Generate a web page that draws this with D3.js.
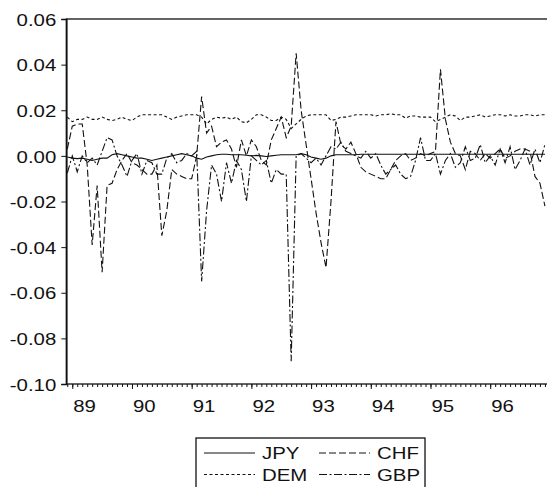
<!DOCTYPE html>
<html>
<head>
<meta charset="utf-8">
<script src="https://cdn.jsdelivr.net/npm/d3@7"></script>
<style>
  body {margin: 0; background: #fff;}
  text {font-family: "Liberation Sans", Arial, sans-serif; font-size: 17px; fill: #111;}
</style>
</head>
<body>
<svg id="chart" width="547" height="487"></svg>
<script>
// monthly observations, 1988:12 .. 1996:12
const firstMonth = 1988 + 11 / 12;

const jpy = [-0.0005,
  -0.001, -0.0012, -0.001, -0.0015, -0.002, -0.0015, -0.001, -0.001, 0.0005, 0.001, 0.0005, 0,
  -0.0005, -0.001, -0.001, -0.0015, -0.002, -0.0015, -0.001, -0.0005, 0, 0.0005, 0.001, 0.0005,
  0, -0.001, -0.0015, -0.0005, 0, 0.0005, 0.0007, 0.0007, 0.0005, 0.0005, 0.0005, 0.0003,
  0, 0.0002, 0, -0.0003, 0, 0.0003, 0.0005, 0.0005, 0.0005, 0.0005, 0.001, 0.0005,
  -0.0005, -0.001, -0.0015, -0.001, 0, 0.0005, 0.0005, 0.0005, 0.0005, 0.0005, 0.0007, 0.0007,
  0.0007, 0.0007, 0.0007, 0.0007, 0.0007, 0.0007, 0.0007, 0.0007, 0.0007, 0.0007, 0.0007, 0.0007,
  0.0007, 0.0007, 0.0007, 0.0007, 0.0007, 0.0007, 0.0007, 0.0007, 0.0007, 0.0007, 0.0007, 0.0007,
  0.0007, 0.0007, 0.0007, 0.0007, 0.0007, 0.0007, 0.0007, 0.0007, 0.0007, 0.0007, 0.0007, 0.0007];

const chf = [0.003,
  0.013, 0.014, 0.014, -0.004, -0.039, -0.013, -0.051, -0.013, -0.012, -0.006, -0.002, 0.001,
  -0.003, -0.004, -0.006, -0.008, -0.008, -0.004, -0.035, -0.024, -0.006, -0.008, -0.009, -0.010,
  -0.010, 0.000, 0.026, 0.010, 0.013, 0.004, 0.006, 0.007, 0.003, -0.005, 0.007, 0.000,
  0.007, 0.004, -0.002, -0.004, 0.007, 0.012, 0.017, 0.008, 0.013, 0.045, 0.020, 0.005,
  -0.010, -0.025, -0.038, -0.049, -0.020, 0.015, 0.005, 0.003, 0.006, 0.001, -0.005, -0.007,
  -0.008, -0.009, -0.010, -0.010, -0.006, -0.002, 0.000, 0.001, -0.002, -0.001, 0.001, 0.000,
  0.001, 0.002, 0.038, 0.016, 0.006, 0.001, 0.000, -0.006, 0.002, 0.001, -0.002, 0.001,
  -0.001, 0.001, 0.003, -0.001, 0.000, 0.002, 0.003, 0.003, 0.002, -0.009, -0.012, -0.022];

const dem = [0.017,
  0.015, 0.016, 0.016, 0.017, 0.016, 0.016, 0.017, 0.016, 0.0155, 0.016, 0.017, 0.016,
  0.0155, 0.017, 0.018, 0.018, 0.018, 0.018, 0.018, 0.017, 0.016, 0.017, 0.0175, 0.018,
  0.018, 0.018, 0.017, 0.014, 0.016, 0.017, 0.0165, 0.017, 0.016, 0.017, 0.015, 0.0145,
  0.016, 0.018, 0.018, 0.017, 0.0155, 0.0155, 0.017, 0.016, 0.012, 0.014, 0.016, 0.0175,
  0.018, 0.018, 0.018, 0.018, 0.0155, 0.016, 0.017, 0.017, 0.0175, 0.018, 0.018, 0.018,
  0.018, 0.0175, 0.018, 0.018, 0.0185, 0.018, 0.018, 0.0165, 0.0175, 0.0175, 0.017, 0.017,
  0.017, 0.015, 0.016, 0.017, 0.018, 0.0175, 0.0155, 0.017, 0.017, 0.0175, 0.018, 0.017,
  0.0175, 0.018, 0.018, 0.0175, 0.018, 0.0175, 0.0175, 0.018, 0.018, 0.0175, 0.018, 0.018];

const gbp = [-0.0075,
  0.000, -0.007, 0.000, -0.003, -0.001, -0.004, 0.002, 0.008, 0.007, 0.000, -0.004, -0.009,
  -0.002, 0.001, -0.008, -0.002, -0.003, -0.008, -0.008, -0.001, 0.001, -0.003, -0.002, 0.001,
  0.000, 0.002, -0.055, -0.024, -0.004, -0.008, -0.020, -0.003, -0.012, -0.002, -0.006, -0.020,
  0.000, -0.002, -0.004, -0.002, -0.012, -0.006, -0.008, -0.008, -0.090, 0.000, 0.001, -0.001,
  -0.003, -0.001, -0.004, 0.000, 0.004, 0.003, 0.006, 0.002, 0.001, 0.000, -0.001, 0.002,
  -0.001, 0.001, -0.004, -0.008, -0.006, -0.004, -0.008, -0.010, -0.009, -0.002, 0.008, -0.002,
  -0.002, 0.001, -0.008, -0.002, 0.001, -0.005, -0.003, 0.004, -0.002, -0.001, 0.005, -0.003,
  0.000, -0.004, 0.003, -0.003, 0.004, -0.006, -0.002, 0.003, -0.004, 0.003, -0.003, 0.005];

const yTicks = [0.06, 0.04, 0.02, 0.00, -0.02, -0.04, -0.06, -0.08, -0.10];
const yLabels = ["0.06", "0.04", "0.02", "0.00", "-0.02", "-0.04", "-0.06", "-0.08", "-0.10"];
const years = [1989, 1990, 1991, 1992, 1993, 1994, 1995, 1996];
const yearLabels = ["89", "90", "91", "92", "93", "94", "95", "96"];

const series = [
  {name: "JPY", values: jpy, dash: null},
  {name: "CHF", values: chf, dash: "7,3"},
  {name: "DEM", values: dem, dash: "3,2.5"},
  {name: "GBP", values: gbp, dash: "8,2.5,2,2.5"}
];

const plotLeft = 66.3, plotRight = 549.9, plotTop = 19, plotBottom = 384;
const stretch = "scale(1.2,1)";

const svg = d3.select("#chart");

const x = d3.scaleLinear().domain([1988.9, 1997]).range([plotLeft, plotRight]);
const y = d3.scaleLinear().domain([-0.10, 0.06]).range([plotBottom, plotTop]);

// frame
svg.append("rect")
    .attr("x", plotLeft).attr("y", plotTop)
    .attr("width", plotRight - plotLeft).attr("height", plotBottom - plotTop)
    .attr("fill", "none").attr("stroke", "#111").attr("stroke-width", 1.3);

// lines
const line = d3.line()
    .x((d, i) => x(firstMonth + i / 12))
    .y(d => y(d));

svg.append("g").selectAll("path")
    .data(series)
  .enter().append("path")
    .attr("d", d => line(d.values))
    .attr("fill", "none")
    .attr("stroke", "#111")
    .attr("stroke-width", 1.1)
    .attr("stroke-dasharray", d => d.dash);

// y axis
const yAxis = svg.append("g")
    .attr("transform", `translate(${ plotLeft },0)`)
    .call(d3.axisLeft(y).tickValues(yTicks).tickSize(5)
      .tickFormat((d, i) => yLabels[i]));
yAxis.select(".domain").attr("stroke", "#111").attr("stroke-width", 1.6);
yAxis.selectAll(".tick line").attr("stroke", "#111");
yAxis.selectAll(".tick text")
    .attr("x", 0).attr("dy", "0.36em")
    .attr("transform", `translate(-10,0) ${ stretch }`)
    .style("font-size", "17px").style("font-family", "Liberation Sans, Arial, sans-serif")
    .attr("fill", "#111");

// x axis: minor month ticks and major year ticks
const months = d3.range(0, 97).map(i => firstMonth + i / 12);
svg.append("g")
    .attr("transform", `translate(0,${ plotBottom })`)
    .call(d3.axisBottom(x).tickValues(months).tickSize(3).tickFormat(""))
    .call(g => g.select(".domain").remove())
    .selectAll("line").attr("stroke", "#111");

const xAxis = svg.append("g")
    .attr("transform", `translate(0,${ plotBottom })`)
    .call(d3.axisBottom(x).tickValues(years).tickSize(5)
      .tickFormat((d, i) => yearLabels[i]));
xAxis.select(".domain").remove();
xAxis.selectAll(".tick line").attr("stroke", "#111");
xAxis.selectAll(".tick text")
    .attr("y", 0).attr("dy", 0).attr("x", 0)
    .attr("text-anchor", "start")
    .attr("transform", `translate(0.5,28) ${ stretch }`)
    .style("font-size", "17px").style("font-family", "Liberation Sans, Arial, sans-serif")
    .attr("fill", "#111");

// legend
const legend = svg.append("g");
legend.append("rect")
    .attr("x", 196).attr("y", 438)
    .attr("width", 229).attr("height", 70)
    .attr("fill", "#fff").attr("stroke", "#111").attr("stroke-width", 1.3);

const legendOrder = ["JPY", "CHF", "DEM", "GBP"];
legendOrder.forEach((name, k) => {
  const s = series.find(d => d.name === name);
  const col = k % 2, row = Math.floor(k / 2);
  const x0 = 204 + col * 115, yy = 453 + row * 21.5;
  legend.append("line")
      .attr("x1", x0).attr("x2", x0 + 51)
      .attr("y1", yy).attr("y2", yy)
      .attr("stroke", "#111").attr("stroke-width", 1)
      .attr("stroke-dasharray", s.dash);
  legend.append("text")
      .attr("transform", `translate(${ x0 + 58 },${ yy + 6 }) ${ stretch }`)
      .text(name);
});
</script>
</body>
</html>
